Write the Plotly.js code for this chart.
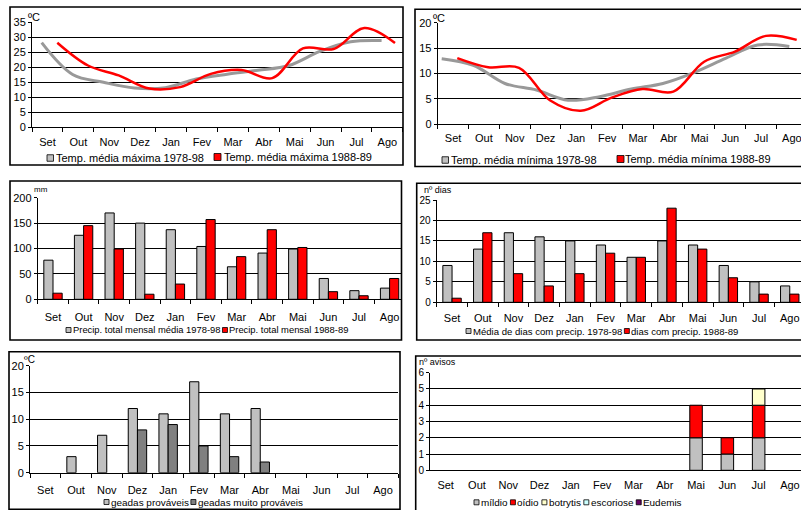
<!DOCTYPE html>
<html><head><meta charset="utf-8">
<script src="https://cdn.plot.ly/plotly-3.0.1.min.js"></script>
<style>html,body{margin:0;padding:0;background:#fff}#chart{width:801px;height:510px}</style>
</head><body><div id="chart"></div>
<script>
// ---------- DATA ----------
const months = ['Set','Out','Nov','Dez','Jan','Fev','Mar','Abr','Mai','Jun','Jul','Ago'];
const tmax7898 = [28.1, 17.5, 14.9, 13.0, 13.1, 16.0, 17.6, 18.9, 20.5, 25.2, 28.4, 28.8];
const tmax8889 = [28.1, 20.5, 17.2, 12.8, 13.3, 17.7, 19.0, 16.3, 26.2, 26.0, 33.0, 28.0];
const tmin7898 = [12.9, 11.6, 8.0, 6.7, 4.7, 5.4, 6.9, 8.0, 10.2, 13.0, 15.6, 15.3];
const tmin8889 = [13.0, 11.2, 11.1, 4.7, 2.6, 5.2, 6.9, 6.4, 12.3, 14.3, 17.4, 16.6];
const prec7898 = [77, 126, 170, 150, 137, 104, 64, 91, 99, 41, 17, 22];
const prec8889 = [12, 145, 99, 10, 30, 157, 84, 137, 102, 15, 7, 41];
const days7898 = [9, 13, 17, 16, 15, 14, 11, 15, 14, 9, 5, 4];
const days8889 = [1, 17, 7, 4, 7, 12, 11, 23, 13, 6, 2, 2];
const geadasProvaveis = [0, 3, 7, 12, 11, 17, 11, 12, 0, 0, 0, 0];
const geadasMuitoProvaveis = [0, 0, 0, 8, 9, 5, 3, 2, 0, 0, 0, 0];
const mildio    = [0,0,0,0,0,0,0,0,2,1,2,0];
const oidio     = [0,0,0,0,0,0,0,0,2,1,2,0];
const botrytis  = [0,0,0,0,0,0,0,0,0,0,1,0];
const escoriose = [0,0,0,0,0,0,0,0,0,0,0,0];
const eudemis   = [0,0,0,0,0,0,0,0,0,0,0,0];
const names = {
  tmax7898:'Temp. média máxima 1978-98', tmax8889:'Temp. média máxima 1988-89',
  tmin7898:'Temp. média mínima 1978-98', tmin8889:'Temp. média mínima 1988-89',
  prec7898:'Precip. total mensal média 1978-98', prec8889:'Precip. total mensal 1988-89',
  days7898:'Média de dias com precip. 1978-98', days8889:'dias com precip. 1988-89',
  gp:'geadas prováveis', gmp:'geadas muito prováveis',
  mildio:'míldio', oidio:'oídio', botrytis:'botrytis', escoriose:'escoriose', eudemis:'Eudemis'
};

// ---------- HELPERS ----------
const W = 801, H = 510;
const fx = p => p / W;
const fy = p => 1 - p / H;
const FONT = 'Liberation Sans, Arial, sans-serif';
const idx = months.map((m, i) => i);
const key = id => id.replace(/^x/, 'xaxis').replace(/^y/, 'yaxis');
const GRAY = '#c0c0c0', DARK = '#808080', RED = '#ff0000', LGRAY = '#999999';
const nz = a => a.map(v => (v === 0 ? null : v));
const ctx = document.createElement('canvas').getContext('2d');
const measure = (t, fs) => { ctx.font = fs + 'px "Liberation Sans", Arial, sans-serif'; return ctx.measureText(t).width; };

const data = [];
const layout = {
  width: W, height: H, margin: {l:0, r:0, t:0, b:0},
  paper_bgcolor: '#fff', plot_bgcolor: 'rgba(0,0,0,0)', showlegend: false,
  barmode: 'group', bargap: 0.4, bargroupgap: 0,
  font: {family: FONT, size: 11, color: '#000'},
  shapes: [], annotations: []
};

function yAxis(id, xId, top, bottom, range, dtick, fs) {
  layout[key(id)] = {
    domain: [fy(bottom), fy(top)], anchor: xId, range: range, tickmode: 'linear', tick0: 0, dtick: dtick,
    showgrid: true, gridcolor: '#000', gridwidth: 1, zeroline: false,
    showline: true, linecolor: '#000', linewidth: 1, ticks: 'outside', ticklen: 3, tickcolor: '#000',
    tickfont: {size: fs || 11, family: FONT}, ticklabeloverflow: 'allow', fixedrange: true
  };
}
function lineXAxis(id, yId, left, right, spacing, standoff) {
  layout[key(id)] = {
    domain: [fx(left), fx(right)], anchor: yId, type: 'linear',
    range: [-0.5, -0.5 + (right - left) / spacing],
    tickmode: 'array', tickvals: idx, ticktext: months, ticks: '',
    showgrid: false, zeroline: false, showline: true, linecolor: '#000', linewidth: 1,
    tickfont: {size: 11, family: FONT}, ticklabelstandoff: standoff, ticklabeloverflow: 'allow',
    minor: {tickmode: 'linear', tick0: 0.5, dtick: 1, ticks: 'outside', ticklen: 4, tickcolor: '#000', showgrid: false},
    fixedrange: true
  };
}
function overlayAxis(id, mainId, yId, left, right, p0, p11) {
  const s = (p11 - p0) / 11, r0 = -(p0 - left) / s;
  layout[key(id)] = {overlaying: mainId, anchor: yId, type: 'linear',
    range: [r0, r0 + (right - left) / s], visible: false, fixedrange: true};
}
function barXAxis(id, yId, left, right, spacing, withTicks, standoff) {
  layout[key(id)] = {
    domain: [fx(left), fx(right)], anchor: yId, type: 'category',
    categoryorder: 'array', categoryarray: months,
    range: [-0.5, -0.5 + (right - left) / spacing],
    tickson: 'boundaries', ticks: withTicks ? 'outside' : '', ticklen: 4, tickcolor: '#000',
    showgrid: false, zeroline: false, showline: true, linecolor: '#000', linewidth: 1,
    tickfont: {size: 11, family: FONT}, ticklabelstandoff: standoff, ticklabeloverflow: 'allow',
    fixedrange: true
  };
}
function border(x0, y0, x1, y1) {
  layout.shapes.push({type: 'rect', xref: 'paper', yref: 'paper', x0: fx(x0), x1: fx(x1), y0: fy(y1), y1: fy(y0),
    line: {color: '#000', width: 1.6}, fillcolor: 'rgba(0,0,0,0)', layer: 'above'});
}
function label(text, x, y, size, anchor) {
  layout.annotations.push({text: text, xref: 'paper', yref: 'paper', x: fx(x), y: fy(y),
    xanchor: anchor || 'left', yanchor: 'middle', showarrow: false, font: {size: size, family: FONT, color: '#000'}});
}
function legendItem(sx, cy, sz, color, text, tx, fs) {
  layout.shapes.push({type: 'rect', xref: 'paper', yref: 'paper', x0: fx(sx), x1: fx(sx + sz),
    y0: fy(cy + sz / 2), y1: fy(cy - sz / 2), fillcolor: color, line: {color: '#000', width: 0.8}});
  layout.annotations.push({text: text, xref: 'paper', yref: 'paper', x: fx(tx), y: fy(cy),
    xanchor: 'left', yanchor: 'middle', showarrow: false, borderpad: 0,
    font: {size: fs, family: FONT, color: '#000'}});
}
// lays a row of legend items between x0 and x1, shrinking the font to fit
function legendRow(items, x0, x1, cy, sq, gIn, gBetween, maxFs) {
  const n = items.length;
  const w10 = items.reduce((s, it) => s + measure(it.text, 10), 0);
  const avail = (x1 - x0) - n * (sq + gIn) - (n - 1) * gBetween;
  const fs = Math.min(maxFs, 10 * avail / w10);
  let x = x0;
  items.forEach(it => {
    legendItem(x, cy, sq, it.color, it.text, x + sq + gIn - 1, fs);
    x += sq + gIn + measure(it.text, fs) + gBetween;
  });
}
function lineTrace(vals, xId, yId, color, width) {
  data.push({type: 'scatter', mode: 'lines', x: idx, y: vals, xaxis: xId, yaxis: yId,
    line: {color: color, width: width, shape: 'spline', smoothing: 1}, hoverinfo: 'skip'});
}
function barTrace(vals, xId, yId, color, extra) {
  data.push(Object.assign({type: 'bar', x: months, y: nz(vals), xaxis: xId, yaxis: yId,
    marker: {color: color, line: {color: '#000', width: 1}}, hoverinfo: 'skip'}, extra || {}));
}

// ---------- PANEL 1 : max temperature ----------
border(10, 7, 403, 165);
lineXAxis('x', 'y', 32, 402.8, 30.9, 5);
yAxis('y', 'x', 22, 127, [0, 35], 5, 11);
overlayAxis('x2', 'x', 'y', 32, 402.8, 41.7, 381.6);
overlayAxis('x3', 'x', 'y', 32, 402.8, 57.3, 395);
data.push({type: 'scatter', x: [], y: [], xaxis: 'x', yaxis: 'y'});
lineTrace(tmax7898, 'x2', 'y', LGRAY, 3);
lineTrace(tmax8889, 'x3', 'y', RED, 2.5);
label('ºC', 26, 17, 11);
legendItem(47, 158, 6.5, GRAY, names.tmax7898, 54.5, 11);
legendItem(214, 157, 7, RED, names.tmax8889, 222.5, 11);

// ---------- PANEL 2 : min temperature ----------
border(415, 9.3, 812, 166.5);
lineXAxis('x4', 'y2', 437.7, 801, 30.8, 4);
yAxis('y2', 'x4', 22.7, 124, [0, 20], 5, 11);
overlayAxis('x5', 'x4', 'y2', 437.7, 801, 441.7, 789.3);
overlayAxis('x6', 'x4', 'y2', 437.7, 801, 457.3, 796.7);
data.push({type: 'scatter', x: [], y: [], xaxis: 'x4', yaxis: 'y2'});
lineTrace(tmin7898, 'x5', 'y2', LGRAY, 3);
lineTrace(tmin8889, 'x6', 'y2', RED, 2.5);
label('ºC', 431, 18.3, 11);
legendItem(442, 160, 6.5, GRAY, names.tmin7898, 449.5, 11);
legendItem(617, 159, 7, RED, names.tmin8889, 623.5, 11);

// ---------- PANEL 3 : precipitation ----------
border(10, 181, 401.5, 340);
barXAxis('x7', 'y3', 37.7, 401.5, 30.6, true, 7);
yAxis('y3', 'x7', 197.7, 299.3, [0, 200], 50, 11);
barTrace(prec7898, 'x7', 'y3', GRAY);
barTrace(prec8889, 'x7', 'y3', RED);
label('mm', 31.5, 189.5, 8);
legendRow([{color: GRAY, text: names.prec7898}, {color: RED, text: names.prec8889}], 66, 349, 330, 5, 2, 2, 10);

// ---------- PANEL 4 : days with precipitation ----------
border(416.7, 183.3, 812, 340);
barXAxis('x8', 'y4', 436.7, 801, 30.7, true, 5);
yAxis('y4', 'x8', 200, 302.3, [0, 25], 5, 10);
barTrace(days7898, 'x8', 'y4', GRAY);
barTrace(days8889, 'x8', 'y4', RED);
label('nº dias', 422.5, 190, 9);
legendRow([{color: GRAY, text: names.days7898}, {color: RED, text: names.days8889}], 466, 739, 331, 5, 2, 2, 10);

// ---------- PANEL 5 : frost ----------
border(9, 351.7, 400, 509.3);
barXAxis('x9', 'y5', 30, 398.4, 30.7, true, 7);
yAxis('y5', 'x9', 365.7, 472.7, [0, 20], 5, 11);
barTrace(geadasProvaveis, 'x9', 'y5', GRAY);
barTrace(geadasMuitoProvaveis, 'x9', 'y5', DARK);
label('ºC', 22, 359.5, 10);
legendRow([{color: GRAY, text: names.gp}, {color: DARK, text: names.gmp}], 104, 303, 502, 5, 2, 2, 10);

// ---------- PANEL 6 : warnings ----------
border(415.7, 356, 812, 530);
barXAxis('x10', 'y6', 430, 801, 31.3, false, 4);
yAxis('y6', 'x10', 372.7, 470.3, [0, 6], 1, 10);
const disease = [mildio, oidio, botrytis, escoriose, eudemis];
const diseaseColors = [GRAY, RED, '#ffffcc', '#ccffff', '#660066'];
const diseaseNames = [names.mildio, names.oidio, names.botrytis, names.escoriose, names.eudemis];
disease.forEach((vals, k) => {
  const base = months.map((m, i) => disease.slice(0, k).reduce((s, a) => s + a[i], 0));
  barTrace(vals, 'x10', 'y6', diseaseColors[k], {base: base, offsetgroup: 'avisos', width: 0.4});
});
label('nº avisos', 416.5, 362, 9);
legendRow(diseaseNames.map((n, k) => ({color: diseaseColors[k], text: n})), 474, 682, 502.3, 5, 2, 3, 10.5);

Plotly.newPlot('chart', data, layout, {staticPlot: true, displayModeBar: false});
</script></body></html>
